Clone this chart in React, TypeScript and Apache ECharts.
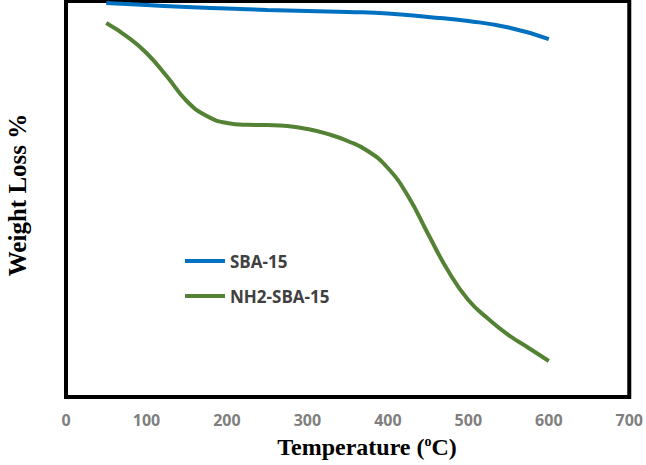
import React, { useEffect, useRef } from "react";
import * as echarts from "echarts";

const sbaTemps = [50, 100, 150, 200, 250, 300, 350, 400, 450, 500, 550, 600];
const sbaValues = [99.8, 99.6, 99.39, 99.24, 99.09, 98.99, 98.89, 98.74, 98.38, 97.98, 97.32, 96.16];

const nh2Temps = [50, 75, 100, 125, 150, 175, 200, 225, 250, 275, 300, 325, 350, 375, 400, 425, 450, 475, 500, 525, 550, 575, 600];
const nh2Values = [97.78, 96.46, 94.75, 92.42, 89.9, 88.38, 87.68, 87.5, 87.47, 87.37, 87.07, 86.57, 85.86, 84.85, 83.13, 80.3, 76.46, 72.73, 69.8, 67.88, 66.26, 64.95, 63.64];

const xTicks = [0, 100, 200, 300, 400, 500, 600, 700];
const seriesNames = ["SBA-15", "NH2-SBA-15"];

export default function App() {
  const ref = useRef<HTMLDivElement>(null);
  useEffect(() => {
    if (!ref.current) return;
    const chart = echarts.init(ref.current, null, { renderer: "svg" });
    const pairs = (t: number[], v: number[]) => t.map((x, i) => [x, v[i]]);
    chart.setOption({
      animation: false,
      backgroundColor: "#ffffff",
      grid: {
        left: 66,
        right: 14,
        top: 1,
        bottom: 68,
        show: true,
        borderColor: "#000000",
        borderWidth: 4,
        backgroundColor: "transparent",
      },
      xAxis: {
        type: "value",
        min: xTicks[0],
        max: xTicks[xTicks.length - 1],
        interval: 100,
        axisLine: { show: false },
        axisTick: { show: false },
        splitLine: { show: false },
        axisLabel: {
          color: "#7f7f7f",
          fontFamily: "Open Sans",
          fontWeight: "bold",
          fontSize: 16,
          margin: 15,
        },
      },
      yAxis: {
        type: "value",
        min: 60,
        max: 100,
        show: false,
        splitLine: { show: false },
      },
      legend: {
        data: seriesNames,
        orient: "vertical",
        left: 185,
        top: 251,
        padding: 0,
        icon: "rect",
        itemWidth: 40,
        itemHeight: 4,
        itemGap: 15,
        textStyle: {
          fontFamily: "Open Sans",
          fontWeight: "bold",
          fontSize: 17,
          color: "#404040",
          lineHeight: 20,
        },
      },
      series: [
        {
          name: seriesNames[0],
          type: "line",
          data: pairs(sbaTemps, sbaValues),
          smooth: 0.5,
          showSymbol: false,
          lineStyle: { width: 4, color: "#0070C0" },
          itemStyle: { color: "#0070C0" },
        },
        {
          name: seriesNames[1],
          type: "line",
          data: pairs(nh2Temps, nh2Values),
          smooth: 0.5,
          showSymbol: false,
          lineStyle: { width: 4, color: "#548235" },
          itemStyle: { color: "#548235" },
        },
      ],
      graphic: [
        {
          type: "text",
          x: 367,
          y: 447,
          style: {
            text: "{a|Temperature (}{s|o}{a|C)}",
            align: "center",
            verticalAlign: "middle",
            rich: {
              a: {
                fontFamily: "Liberation Serif",
                fontWeight: "bold",
                fontSize: 24,
                lineHeight: 26,
                fill: "#000",
              },
              s: {
                fontFamily: "Liberation Serif",
                fontWeight: "bold",
                fontSize: 14,
                lineHeight: 14,
                verticalAlign: "top",
                fill: "#000",
              },
            },
          },
        },
        {
          type: "text",
          x: 17,
          y: 195,
          rotation: Math.PI / 2,
          style: {
            text: "Weight Loss %",
            align: "center",
            verticalAlign: "middle",
            fontFamily: "Liberation Serif",
            fontWeight: "bold",
            fontSize: 25,
            fill: "#000",
          },
        },
      ],
    });
    return () => chart.dispose();
  }, []);
  return (
    <div
      ref={ref}
      style={{ position: "fixed", left: 0, top: 0, width: 646, height: 465 }}
    />
  );
}
